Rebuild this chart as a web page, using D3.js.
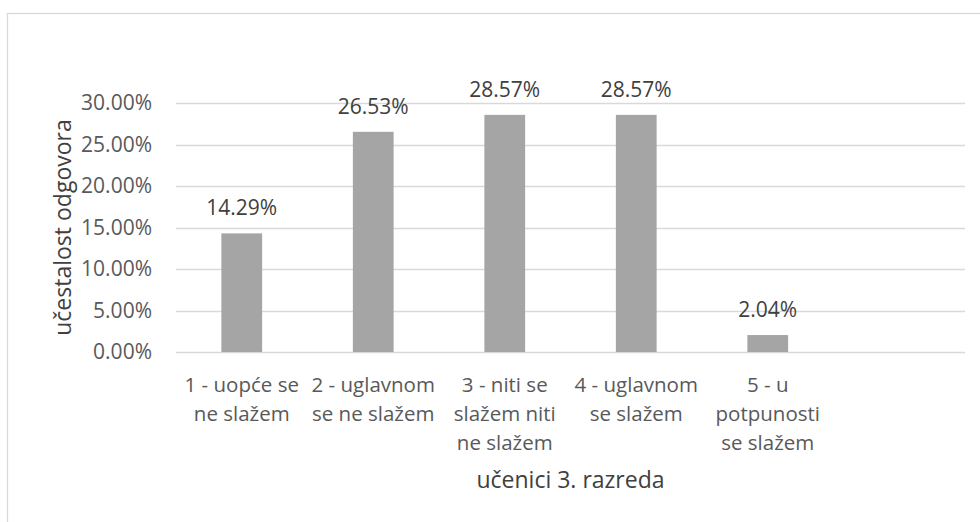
<!DOCTYPE html>
<html>
<head>
<meta charset="utf-8">
<script src="https://cdn.jsdelivr.net/npm/d3@7"></script>
<style>
  body { margin: 0; background: #fff; }
  svg text { font-family: "Open Sans", sans-serif; }
</style>
</head>
<body>
<div id="chart"></div>
<script>
// data
var categories = ["1 - uopće se ne slažem", "2 - uglavnom se ne slažem", "3 - niti se slažem niti ne slažem",
                  "4 - uglavnom se slažem", "5 - u potpunosti se slažem", ""];
var categoryLines = [
  ["1 - uopće se", "ne slažem"],
  ["2 - uglavnom", "se ne slažem"],
  ["3 - niti se", "slažem niti", "ne slažem"],
  ["4 - uglavnom", "se slažem"],
  ["5 - u", "potpunosti", "se slažem"],
  []
];
var values = [14.29, 26.53, 28.57, 28.57, 2.04, null];
var yTicks = [0, 5, 10, 15, 20, 25, 30];
var yTitle = "učestalost odgovora";
var xTitle = "učenici 3. razreda";

var width = 980, height = 522;
var plot = { left: 176, right: 965, top: 103, bottom: 352 };

var svg = d3.select("#chart")
  .append("svg")
  .attr("width", width)
  .attr("height", height);

// chart frame
svg.append("rect")
  .attr("x", 7.5).attr("y", 13.5)
  .attr("width", 1000).attr("height", 540)
  .attr("fill", "#fff")
  .attr("stroke", "#d9d9d9")
  .attr("stroke-width", 1.3);

var xScale = d3.scaleBand()
  .domain(categories)
  .range([plot.left, plot.right])
  .paddingInner(0.69)
  .paddingOuter(0.345);

var yScale = d3.scaleLinear().domain([0, 30]).range([plot.bottom, plot.top]);

// gridlines
svg.append("g")
  .selectAll("line")
  .data(yTicks)
  .enter()
  .append("line")
  .attr("x1", plot.left).attr("x2", plot.right)
  .attr("y1", function(d) { return Math.round(yScale(d)) + 0.5; })
  .attr("y2", function(d) { return Math.round(yScale(d)) + 0.5; })
  .attr("stroke", "#d9d9d9")
  .attr("stroke-width", 1.3);

// y axis labels
var yAxis = d3.axisLeft(yScale)
  .tickValues(yTicks)
  .tickSize(0)
  .tickPadding(24)
  .tickFormat(function(d) { return d.toFixed(2) + "%"; });

var gy = svg.append("g")
  .attr("transform", "translate(" + plot.left + ",0)")
  .call(yAxis);
gy.select(".domain").remove();
gy.selectAll("text")
  .attr("font-family", "Open Sans, sans-serif")
  .attr("font-size", "21px")
  .attr("fill", "#595959");

// bars
var barData = categories.map(function(c, i) { return { cat: c, value: values[i], lines: categoryLines[i] }; });

svg.append("g")
  .selectAll("rect")
  .data(barData.filter(function(d) { return d.value != null; }))
  .enter()
  .append("rect")
  .attr("x", function(d) { return xScale(d.cat); })
  .attr("y", function(d) { return yScale(d.value); })
  .attr("width", xScale.bandwidth())
  .attr("height", function(d) { return yScale(0) - yScale(d.value); })
  .attr("fill", "#a5a5a5");

// value labels
svg.append("g")
  .selectAll("text")
  .data(barData.filter(function(d) { return d.value != null; }))
  .enter()
  .append("text")
  .attr("x", function(d) { return xScale(d.cat) + xScale.bandwidth() / 2; })
  .attr("y", function(d) { return yScale(d.value) - 18; })
  .attr("text-anchor", "middle")
  .attr("font-size", "21px")
  .attr("fill", "#404040")
  .text(function(d) { return d.value.toFixed(2) + "%"; });

// category labels, wrapped like the original
var catLabels = svg.append("g")
  .selectAll("text")
  .data(barData)
  .enter()
  .append("text")
  .attr("x", function(d) { return xScale(d.cat) + xScale.bandwidth() / 2; })
  .attr("y", 392)
  .attr("text-anchor", "middle")
  .attr("font-size", "20.5px")
  .attr("fill", "#595959");

catLabels.selectAll("tspan")
  .data(function(d) { return d.lines.map(function(l) { return { line: l, x: xScale(d.cat) + xScale.bandwidth() / 2 }; }); })
  .enter()
  .append("tspan")
  .attr("x", function(d) { return d.x; })
  .attr("dy", function(d, i) { return i == 0 ? 0 : 29; })
  .text(function(d) { return d.line; });

// axis titles
svg.append("text")
  .attr("transform", "translate(71," + ((plot.top + plot.bottom) / 2) + ") rotate(-90)")
  .attr("text-anchor", "middle")
  .attr("font-size", "23px")
  .attr("fill", "#404040")
  .text(yTitle);

svg.append("text")
  .attr("x", (plot.left + plot.right) / 2)
  .attr("y", 488)
  .attr("text-anchor", "middle")
  .attr("font-size", "23px")
  .attr("fill", "#404040")
  .text(xTitle);
</script>
</body>
</html>
